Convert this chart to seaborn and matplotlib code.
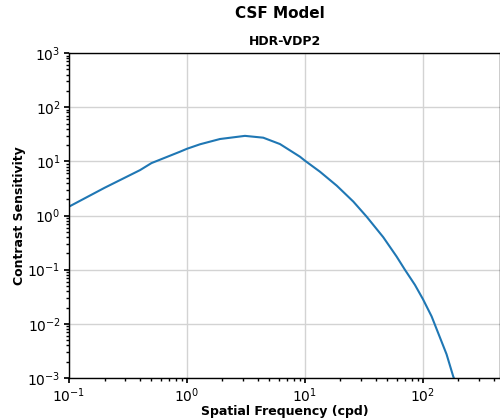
import matplotlib
matplotlib.use("Agg")
import matplotlib.pyplot as plt
import seaborn as sns
import pandas as pd

# Values
freq = [0.1, 0.2, 0.4, 0.5, 0.873, 1.0, 1.29, 1.905, 3.1, 4.43, 6.14, 9.07, 10.0,
        13.4, 18.6, 25.7, 33.3, 46.1, 59.8, 70.3, 85.5, 100.0, 118.5, 139.0, 158.5, 180.6, 183.0]
sens = [1.46, 3.25, 6.9, 9.3, 15.1, 17.1, 20.7, 25.9, 29.6, 27.4, 20.9, 12.2, 10.3,
        6.45, 3.56, 1.81, 0.955, 0.398, 0.175, 0.1, 0.0525, 0.0286, 0.0137, 0.00568, 0.00275, 0.00107, 0.001]

sns.set_theme(style="ticks")
plt.rcParams['font.family'] = ['DejaVu Sans']
plt.rcParams.update({"text.color": "black", "axes.labelcolor": "black",
                     "xtick.color": "black", "ytick.color": "black"})

df = pd.DataFrame({"Spatial Frequency (cpd)": freq, "Contrast Sensitivity": sens})

fig = plt.figure(figsize=(5.0, 4.18), dpi=100)
ax = fig.add_axes([0.138, 0.0957, 0.862, 0.7773])
sns.lineplot(data=df, x="Spatial Frequency (cpd)", y="Contrast Sensitivity",
             ax=ax, color="#1f77b4", linewidth=1.5, sort=False)
ax.set_xscale("log")
ax.set_yscale("log")
ax.set_xlim(0.1, 450)
ax.set_ylim(1e-3, 1e3)
ax.grid(True, which="major", color="#d3d3d3", linewidth=1.0)
ax.set_axisbelow(True)
for s in ax.spines.values():
    s.set_color("black")
    s.set_linewidth(1.0)
ax.tick_params(axis="both", which="major", labelsize=10, length=3.5, color="black",
               labelcolor="black", direction="out", pad=2.5)
ax.tick_params(axis="both", which="minor", length=2, color="black")
ax.set_xlabel("Spatial Frequency (cpd)", fontsize=9, fontweight="bold", labelpad=0, color="black")
ax.set_ylabel("Contrast Sensitivity", fontsize=9, fontweight="bold", labelpad=1, color="black")
ax.set_title("HDR-VDP2", fontsize=9, fontweight="bold", pad=6, color="black")
fig.suptitle("CSF Model", fontsize=11, fontweight="bold", x=0.56, y=0.985, color="black")

fig.savefig("out.png", dpi=100)
